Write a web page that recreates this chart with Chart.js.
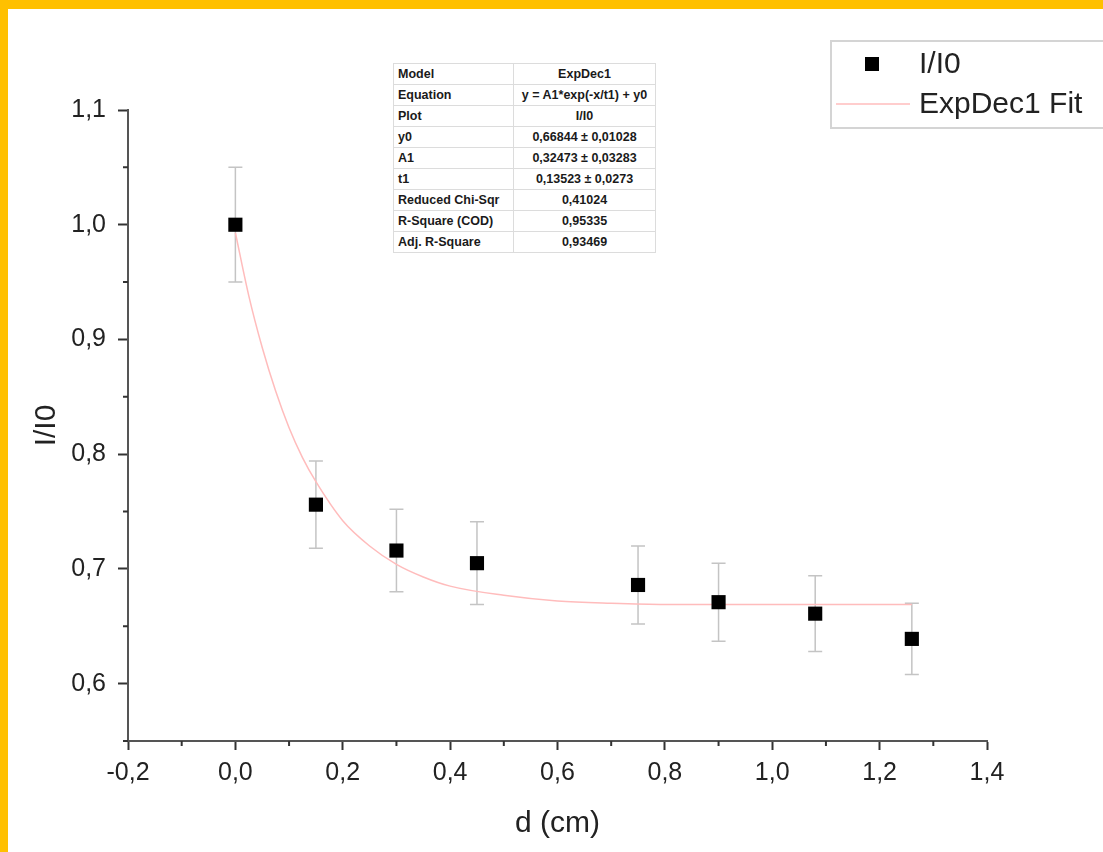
<!DOCTYPE html>
<html>
<head>
<meta charset="utf-8">
<script src="https://cdn.jsdelivr.net/npm/chart.js@4.4.1/dist/chart.umd.min.js"></script>
<style>
    html, body { margin: 0; padding: 0; background: #fff; }
    #wrap { position: relative; width: 1103px; height: 852px; overflow: hidden; background: #fff; }
    #grafico { position: absolute; left: 0; top: 0; }
    .moldura-topo { position: absolute; left: 0; top: 0; width: 1103px; height: 9px; background: #FFC000; }
    .moldura-esq { position: absolute; left: 0; top: 0; width: 8px; height: 852px; background: #FFC000; }
    #tabelaFit {
        position: absolute; left: 393px; top: 63px; width: 262px;
        border-collapse: collapse; table-layout: fixed;
        font-family: "Liberation Sans", Arial, sans-serif; font-size: 12.5px; font-weight: bold; color: #1a1a1a;
        background: #fff;
    }
    #tabelaFit td { border: 1px solid #dcdcdc; height: 20px; padding: 0 4px; white-space: nowrap; overflow: hidden; }
    #tabelaFit td.val { text-align: center; }
</style>
</head>
<body>
<div id="wrap">
    <canvas id="grafico" width="1103" height="852"></canvas>
    <table id="tabelaFit">
        <colgroup><col style="width:120px"><col style="width:142px"></colgroup>
        <tbody id="corpoTabela"></tbody>
    </table>
    <div class="moldura-topo"></div>
    <div class="moldura-esq"></div>
</div>
<script>
// dados
const dist = [0, 0.15, 0.3, 0.45, 0.75, 0.9, 1.08, 1.26];
const ratio = [1.0, 0.756, 0.716, 0.705, 0.686, 0.671, 0.661, 0.639];
const ratioErr = [0.05, 0.038, 0.036, 0.036, 0.034, 0.034, 0.033, 0.031];

// curva do ajuste
const fitX = [0, 0.025, 0.05, 0.075, 0.1, 0.125, 0.15, 0.2, 0.25, 0.3, 0.35, 0.4, 0.5, 0.6, 0.7, 0.8, 1.0, 1.26];
const fitY = [0.993, 0.938, 0.893, 0.855, 0.823, 0.797, 0.776, 0.742, 0.720, 0.704, 0.693, 0.685, 0.677, 0.672, 0.670, 0.669, 0.669, 0.669];

const X_TICKS = [-0.2, 0, 0.2, 0.4, 0.6, 0.8, 1.0, 1.2, 1.4];
const Y_TICKS = [0.6, 0.7, 0.8, 0.9, 1.0, 1.1];

const tabelaRotulos = ['Model', 'Equation', 'Plot', 'y0', 'A1', 't1', 'Reduced Chi-Sqr', 'R-Square (COD)', 'Adj. R-Square'];
const tabelaValores = ['ExpDec1', 'y = A1*exp(-x/t1) + y0', 'I/I0', '0,66844 ± 0,01028', '0,32473 ± 0,03283', '0,13523 ± 0,0273', '0,41024', '0,95335', '0,93469'];

const corpo = document.getElementById('corpoTabela');
tabelaRotulos.forEach(function(r, i) {
    let tr = document.createElement('tr');
    let a = document.createElement('td');
    a.textContent = r;
    let b = document.createElement('td');
    b.className = 'val';
    b.textContent = tabelaValores[i];
    tr.appendChild(a);
    tr.appendChild(b);
    corpo.appendChild(tr);
});

const fonte = '"Liberation Sans", Arial, sans-serif';
const virgula = v => Number(v).toFixed(1).replace('.', ',');

const barrasErro = {
    id: 'barrasErro',
    beforeDatasetsDraw(chart) {
        const ctx = chart.ctx, xs = chart.scales.x, ys = chart.scales.y;
        ctx.save();
        ctx.strokeStyle = '#c4c4c4';
        ctx.lineWidth = 1.5;
        dist.forEach(function(d, i) {
            let px = xs.getPixelForValue(d);
            let top = ys.getPixelForValue(ratio[i] + ratioErr[i]);
            let bot = ys.getPixelForValue(ratio[i] - ratioErr[i]);
            ctx.beginPath();
            ctx.moveTo(px, top); ctx.lineTo(px, bot);
            ctx.moveTo(px - 7, top); ctx.lineTo(px + 7, top);
            ctx.moveTo(px - 7, bot); ctx.lineTo(px + 7, bot);
            ctx.stroke();
        });
        ctx.restore();
    }
};

const ticksMenores = {
    id: 'ticksMenores',
    afterDraw(chart) {
        const ctx = chart.ctx, xs = chart.scales.x, ys = chart.scales.y, area = chart.chartArea;
        ctx.save();
        ctx.strokeStyle = '#333';
        ctx.lineWidth = 2;
        ctx.beginPath();
        for (let i = 0; i < X_TICKS.length - 1; i++) {
            let px = xs.getPixelForValue((X_TICKS[i] + X_TICKS[i + 1]) / 2);
            ctx.moveTo(px, area.bottom); ctx.lineTo(px, area.bottom + 5);
        }
        let yMin = [Y_TICKS[0] - 0.05];
        for (let i = 0; i < Y_TICKS.length - 1; i++) yMin.push((Y_TICKS[i] + Y_TICKS[i + 1]) / 2);
        yMin.forEach(function(v) {
            let py = ys.getPixelForValue(v);
            ctx.moveTo(area.left, py); ctx.lineTo(area.left - 5, py);
        });
        ctx.stroke();
        ctx.restore();
    }
};

const legendaOrigin = {
    id: 'legendaOrigin',
    afterDraw(chart) {
        const ctx = chart.ctx, ds = chart.data.datasets;
        ctx.save();
        ctx.strokeStyle = '#d4d4d4';
        ctx.lineWidth = 2;
        ctx.strokeRect(831, 41, 320, 87);
        ctx.fillStyle = ds[0].backgroundColor;
        ctx.fillRect(865, 57, 14, 14);
        ctx.strokeStyle = ds[1].borderColor;
        ctx.lineWidth = 1.5;
        ctx.beginPath();
        ctx.moveTo(836, 104); ctx.lineTo(910, 104);
        ctx.stroke();
        ctx.fillStyle = '#222';
        ctx.font = '30px ' + fonte;
        ctx.textBaseline = 'middle';
        ctx.fillText(ds[0].label, 919, 65);
        ctx.fillText(ds[1].label, 919, 105);
        ctx.restore();
    }
};

new Chart(document.getElementById('grafico').getContext('2d'), {
    type: 'scatter',
    data: {
        datasets: [{
            label: 'I/I0',
            data: dist.map((d, i) => ({ x: d, y: ratio[i] })),
            pointStyle: 'rect',
            pointRadius: 10,
            backgroundColor: '#000',
            borderColor: '#000',
            borderWidth: 0,
            order: 1
        }, {
            label: 'ExpDec1 Fit',
            data: fitX.map((d, i) => ({ x: d, y: fitY[i] })),
            showLine: true,
            pointRadius: 0,
            borderColor: '#ffbcbc',
            borderWidth: 1.5,
            cubicInterpolationMode: 'monotone',
            fill: false,
            order: 2
        }]
    },
    options: {
        responsive: false,
        animation: false,
        layout: { padding: { left: 0, top: 110, right: 116, bottom: 0 } },
        plugins: { legend: { display: false }, tooltip: { enabled: false } },
        scales: {
            x: {
                type: 'linear', min: -0.2, max: 1.4,
                afterBuildTicks: s => { s.ticks = X_TICKS.map(v => ({ value: v })); },
                afterFit: s => { s.height = 111; },
                grid: { drawOnChartArea: false, drawTicks: true, tickLength: 9, tickColor: '#333', tickWidth: 2 },
                border: { color: '#555', width: 2 },
                ticks: { callback: virgula, color: '#222', font: { family: fonte, size: 25 }, padding: 8, maxRotation: 0 },
                title: { display: true, text: 'd (cm)', color: '#222', font: { family: fonte, size: 30 }, padding: { top: 0, bottom: 10 } }
            },
            y: {
                type: 'linear', min: 0.55, max: 1.1,
                afterBuildTicks: s => { s.ticks = Y_TICKS.map(v => ({ value: v })); },
                afterFit: s => { s.width = 128; },
                grid: { drawOnChartArea: false, drawTicks: true, tickLength: 10, tickColor: '#333', tickWidth: 2 },
                border: { color: '#555', width: 2 },
                ticks: { callback: virgula, color: '#222', font: { family: fonte, size: 25 }, padding: 12 },
                title: { display: true, text: 'I/I0', color: '#222', font: { family: fonte, size: 30 }, padding: { top: 29, bottom: 0 } }
            }
        }
    },
    plugins: [barrasErro, ticksMenores, legendaOrigin]
});
</script>
</body>
</html>
